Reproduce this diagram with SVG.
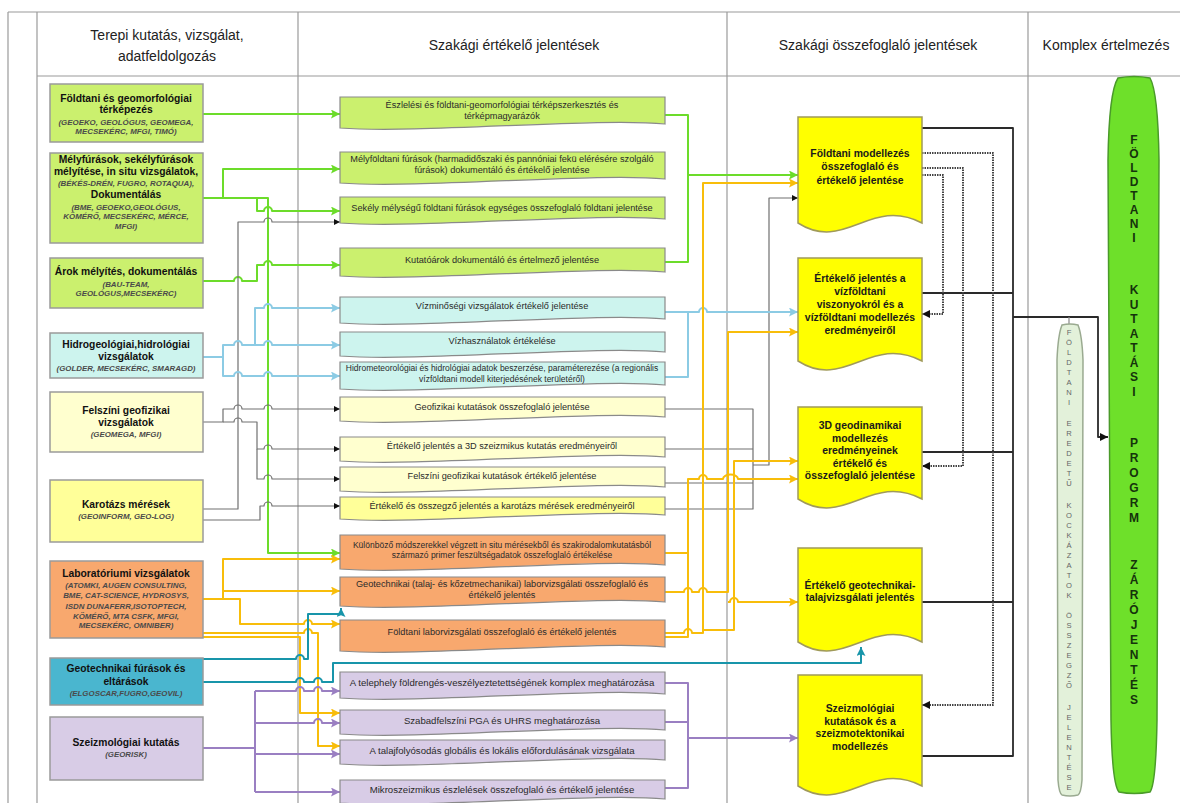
<svg xmlns="http://www.w3.org/2000/svg" width="1180" height="803" viewBox="0 0 1180 803">
<style>
text{font-family:"Liberation Sans",Arial,sans-serif}
.hdr{font-size:14px;fill:#222;text-anchor:middle}
.lb{font-size:10.3px;font-weight:bold;fill:#111;text-anchor:middle}
.li{font-size:7.9px;font-weight:bold;font-style:italic;fill:#4a4a4a;text-anchor:middle}
.mt{font-size:9.2px;fill:#2a2a2a;text-anchor:middle}
.ms{font-size:8.5px;fill:#2a2a2a;text-anchor:middle}
.mb{font-size:9.6px;fill:#2a2a2a;text-anchor:middle}
.rb{font-size:10.4px;font-weight:bold;fill:#1a1a1a;text-anchor:middle}
.pl{font-size:12px;font-weight:bold;fill:#15330c;text-anchor:middle}
.sp{font-size:7.6px;fill:#666;text-anchor:middle}
.grid{stroke:#9a9a9a;stroke-width:1.2;fill:none}
.lbox{stroke:#9a9a9a;stroke-width:1.5}
.mbox{stroke:#8a8a8a;stroke-width:1.2}
.rbox{fill:#ffff00;stroke:#a09a5a;stroke-width:1.5}
.fg{fill:#cbf06e}.fc{fill:#cdf4ee}.fy{fill:#ffffcf}.fk{fill:#ffff99}.fo{fill:#f8a86e}.ft{fill:#4ab6cf}.fp{fill:#d8cce6}
.c{fill:none;stroke-linejoin:round}
.g{stroke:#6cdc2a;stroke-width:2}
.b{stroke:#8ccbe4;stroke-width:2}
.y{stroke:#f8bd0a;stroke-width:2}
.t{stroke:#1895aa;stroke-width:2}
.p{stroke:#9a7fc2;stroke-width:2}
.k{stroke:#707070;stroke-width:1.2}
.bl{stroke:#2a2a2a;stroke-width:1.8}
.d{stroke:#444;stroke-width:2;stroke-dasharray:1.5,1}
</style>
<defs>
<marker id="aG" viewBox="0 0 10 10" refX="10" refY="5" markerWidth="9" markerHeight="9" markerUnits="userSpaceOnUse" orient="auto"><path d="M0,0 L10,5 L0,10 L2,5 Z" fill="#6cdc2a"/></marker>
<marker id="aB" viewBox="0 0 10 10" refX="10" refY="5" markerWidth="9" markerHeight="9" markerUnits="userSpaceOnUse" orient="auto"><path d="M0,0 L10,5 L0,10 L2,5 Z" fill="#8ccbe4"/></marker>
<marker id="aY" viewBox="0 0 10 10" refX="10" refY="5" markerWidth="9" markerHeight="9" markerUnits="userSpaceOnUse" orient="auto"><path d="M0,0 L10,5 L0,10 L2,5 Z" fill="#f8bd0a"/></marker>
<marker id="aT" viewBox="0 0 10 10" refX="10" refY="5" markerWidth="9" markerHeight="9" markerUnits="userSpaceOnUse" orient="auto"><path d="M0,0 L10,5 L0,10 L2,5 Z" fill="#1895aa"/></marker>
<marker id="aP" viewBox="0 0 10 10" refX="10" refY="5" markerWidth="9" markerHeight="9" markerUnits="userSpaceOnUse" orient="auto"><path d="M0,0 L10,5 L0,10 L2,5 Z" fill="#9a7fc2"/></marker>
<marker id="aK" viewBox="0 0 10 10" refX="10" refY="5" markerWidth="6" markerHeight="6" markerUnits="userSpaceOnUse" orient="auto"><path d="M0,0 L10,5 L0,10 Z" fill="#111"/></marker>
<marker id="aD" viewBox="0 0 10 10" refX="10" refY="5" markerWidth="8" markerHeight="8" markerUnits="userSpaceOnUse" orient="auto"><path d="M0,0 L10,5 L0,10 Z" fill="#111"/></marker>
</defs>
<rect width="1180" height="803" fill="#fff"/>

<g id="table">
<line class="grid" x1="8" y1="12" x2="1180" y2="12" stroke-width="1.8"/>
<line class="grid" x1="8" y1="12" x2="8" y2="803"/>
<line class="grid" x1="37" y1="12" x2="37" y2="803"/>
<line class="grid" x1="298" y1="12" x2="298" y2="803"/>
<line class="grid" x1="727" y1="12" x2="727" y2="803"/>
<line class="grid" x1="1028" y1="12" x2="1028" y2="803"/>
<line class="grid" x1="37" y1="76" x2="1180" y2="76"/>
<text class="hdr" x="167" y="40">Terepi kutatás, vizsgálat,</text>
<text class="hdr" x="167" y="61">adatfeldolgozás</text>
<text class="hdr" x="514" y="50">Szakági értékelő jelentések</text>
<text class="hdr" x="878" y="50">Szakági összefoglaló jelentések</text>
<text class="hdr" x="1106" y="50">Komplex értelmezés</text>
</g>

<g id="connectors">
<g id="green-lines" class="c g">
<path d="M203,114 H340" marker-end="url(#aG)"/>
<path d="M203,198 H223 V169 H340" marker-end="url(#aG)"/>
<path d="M223,198 H268 V553 H340" marker-end="url(#aG)"/>
<path d="M257,198 V211 H264 a4,4 0 0 1 8,0 H340" marker-end="url(#aG)"/>
<path d="M203,281 H234 a4,4 0 0 1 8,0 H257 V265 H264 a4,4 0 0 1 8,0 H340" marker-end="url(#aG)"/>
<path d="M665,115 H688 V262 H665"/>
<path d="M688,175 H798" marker-end="url(#aG)"/>
</g>
<g id="gray-lines" class="c k">
<path d="M203,509 H238 V222 H264 a4,4 0 0 1 8,0 H340" marker-end="url(#aK)"/>
<path d="M203,520 H260 V506 H264 a4,4 0 0 1 8,0 H340" marker-end="url(#aK)"/>
<path d="M203,422 H223 V409 H234 a4,4 0 0 1 8,0 H264 a4,4 0 0 1 8,0 H340" marker-end="url(#aK)"/>
<path d="M223,422 H234 a4,4 0 0 1 8,0 H257 V449 H264 a4,4 0 0 1 8,0 H340" marker-end="url(#aK)"/>
<path d="M257,449 V479 H264 a4,4 0 0 1 8,0 H340" marker-end="url(#aK)"/>
<path d="M665,409 H753 V509 H665"/>
<path d="M665,449 H753"/>
<path d="M665,483 H753"/>
<path d="M753,465 H769 V198 H798" marker-end="url(#aK)"/>
</g>
<g id="blue-lines" class="c b">
<path d="M203,357 H223 V345 H234 a4,4 0 0 1 8,0 H255 V308 H264 a4,4 0 0 1 8,0 H340" marker-end="url(#aB)"/>
<path d="M255,345 H264 a4,4 0 0 1 8,0 H340" marker-end="url(#aB)"/>
<path d="M223,357 V376 H234 a4,4 0 0 1 8,0 H264 a4,4 0 0 1 8,0 H340" marker-end="url(#aB)"/>
<path d="M665,312 H688 V377 H665"/>
<path d="M688,312 H699 a4,4 0 0 1 8,0 H798" marker-end="url(#aB)"/>
</g>
<g id="yellow-lines" class="c y">
<path d="M203,599 H223 V559 H340" marker-end="url(#aY)"/>
<path d="M223,591 H340" marker-end="url(#aY)"/>
<path d="M223,599 H240 V624 H304 a4,4 0 0 1 8,0 H340" marker-end="url(#aY)"/>
<path d="M203,633 H304 a4,4 0 0 1 8,0 H318 V746 H340" marker-end="url(#aY)"/>
<path d="M203,637 H300 V713 H340" marker-end="url(#aY)"/>
<path d="M665,553 H688"/>
<path d="M665,637 H688 V479 H699 a4,4 0 0 1 8,0 H723 a7.5,4.5 0 0 1 15,0 H798" marker-end="url(#aY)"/>
<path d="M665,592 H684 a4,4 0 0 1 8,0 H699 a4,4 0 0 1 8,0 H728 V332 H798" marker-end="url(#aY)"/>
<path d="M728,602 H730 a4,4 0 0 1 8,0 H798" marker-end="url(#aY)"/>
<path d="M665,633 H684 a4,4 0 0 1 8,0 H703 V183 H798" marker-end="url(#aY)"/>
<path d="M703,630 H734 V461 H798" marker-end="url(#aY)"/>
</g>
<g id="teal-lines" class="c t">
<path d="M203,659 H296 a4,4 0 0 1 8,0 H308 V614 H341 V608" marker-end="url(#aT)"/>
<path d="M203,682 H296 a4,4 0 0 1 8,0 H314 a4,4 0 0 1 8,0 H333 V663 H861 V647" marker-end="url(#aT)"/>
</g>
<g id="purple-lines" class="c p">
<path d="M203,748 H255 M255,691 V792"/>
<path d="M255,691 H296 a4,4 0 0 1 8,0 H314 a4,4 0 0 1 8,0 H340" marker-end="url(#aP)"/>
<path d="M255,723 H314 a4,4 0 0 1 8,0 H340" marker-end="url(#aP)"/>
<path d="M255,754 H340" marker-end="url(#aP)"/>
<path d="M255,792 H340" marker-end="url(#aP)"/>
<path d="M665,683 H688 V788 H665"/>
<path d="M665,722 H688"/>
<path d="M688,738 H798" marker-end="url(#aP)"/>
</g>
<g id="black-lines" class="c bl">
<path d="M922,128 H1013 V756 H922"/>
<path d="M922,293 H1013"/>
<path d="M922,452 H1013"/>
<path d="M922,602 H1013"/>
<path d="M1013,317 H1098 V437 H1108" marker-end="url(#aD)"/>
<path d="M1069,317 V325" stroke="#888" stroke-width="1.2"/>
</g>
<g id="dotted-lines" class="c d">
<path d="M922,153 H993 V705 H922" marker-end="url(#aD)"/>
<path d="M922,168 H963 V466 H922" marker-end="url(#aD)"/>
<path d="M922,175 H943 V314 H922" marker-end="url(#aD)"/>
</g>
</g>

<g id="n-foldtani-terkepezes"><rect class="lbox fg" x="50" y="84" width="153" height="58"/>
<text class="lb" x="126" y="102">Földtani és geomorfológiai</text><text class="lb" x="126" y="113">térképezés</text>
<text class="li" x="126" y="125">(GEOEKO, GEOLÓGUS, GEOMEGA,</text><text class="li" x="126" y="134">MECSEKÉRC, MFGI, TIMÓ)</text></g>
<g id="n-melyfurasok"><rect class="lbox fg" x="50" y="153" width="153" height="90"/>
<text class="lb" x="126" y="163">Mélyfúrások, sekélyfúrások</text><text class="lb" x="126" y="175">mélyítése, in situ vizsgálatok,</text>
<text class="li" x="126" y="186">(BÉKÉS-DRÉN, FUGRO, ROTAQUA),</text><text class="lb" x="126" y="198">Dokumentálás</text>
<text class="li" x="126" y="210">(BME, GEOEKO,GEOLÓGUS,</text><text class="li" x="126" y="219">KÖMÉRŐ, MECSEKÉRC, MÉRCE,</text><text class="li" x="126" y="229">MFGI)</text></g>
<g id="n-arok"><rect class="lbox fg" x="50" y="258" width="153" height="50"/>
<text class="lb" x="126" y="275">Árok mélyítés, dokumentálás</text>
<text class="li" x="126" y="287">(BAU-TEAM,</text><text class="li" x="126" y="296">GEOLÓGUS,MECSEKÉRC)</text></g>
<g id="n-hidrogeologiai"><rect class="lbox fc" x="50" y="333" width="153" height="45"/>
<text class="lb" x="126" y="348">Hidrogeológiai,hidrológiai</text><text class="lb" x="126" y="360">vizsgálatok</text>
<text class="li" x="126" y="371">(GOLDER, MECSEKÉRC, SMARAGD)</text></g>
<g id="n-felszini-geofizikai"><rect class="lbox fy" x="50" y="392" width="153" height="60"/>
<text class="lb" x="126" y="414">Felszíni   geofizikai</text><text class="lb" x="126" y="426">vizsgálatok</text>
<text class="li" x="126" y="437">(GEOMEGA, MFGI)</text></g>
<g id="n-karotazs"><rect class="lbox fk" x="50" y="480" width="153" height="62"/>
<text class="lb" x="126" y="508">Karotázs mérések</text><text class="li" x="126" y="519">(GEOINFORM, GEO-LOG)</text></g>
<g id="n-laboratoriumi"><rect class="lbox fo" x="50" y="561" width="153" height="77"/>
<text class="lb" x="126" y="577">Laboratóriumi vizsgálatok</text>
<text class="li" x="126" y="588">(ATOMKI, AUGEN CONSULTING,</text><text class="li" x="126" y="598">BME, CAT-SCIENCE, HYDROSYS,</text>
<text class="li" x="126" y="609">ISDN DUNAFERR,ISOTOPTECH,</text><text class="li" x="126" y="619">KÖMÉRŐ, MTA CSFK, MFGI,</text><text class="li" x="126" y="628">MECSEKÉRC, OMNIBER)</text></g>
<g id="n-geotechnikai-furasok"><rect class="lbox ft" x="50" y="658" width="153" height="47"/>
<text class="lb" x="126" y="672">Geotechnikai fúrások és</text><text class="lb" x="126" y="685">eltárások</text>
<text class="li" x="126" y="696">(ELGOSCAR,FUGRO,GEOVIL)</text></g>
<g id="n-szeizmologiai-kutatas"><rect class="lbox fp" x="50" y="717" width="153" height="63"/>
<text class="lb" x="126" y="746">Szeizmológiai kutatás</text><text class="li" x="126" y="757">(GEORISK)</text></g>

<g id="m-eszlelesi"><path class="mbox fg" d="M340,97 H665 V124 C600,117 420,134 340,128 Z"/>
<text class="mt" x="502" y="108">Észlelési és földtani-geomorfológiai térképszerkesztés és</text><text class="mt" x="502" y="119">térképmagyarázók</text></g>
<g id="m-melyfoldtani"><path class="mbox fg" d="M340,152 H665 V179 C600,172 420,189 340,183 Z"/>
<text class="mt" x="502" y="162">Mélyföldtani fúrások (harmadidőszaki és pannóniai fekü elérésére szolgáló</text><text class="mt" x="502" y="173">fúrások) dokumentáló és értékelő jelentése</text></g>
<g id="m-sekely"><path class="mbox fg" d="M340,197 H665 V219 C600,212 420,229 340,223 Z"/>
<text class="mt" x="502" y="211">Sekély mélységű földtani fúrások  egységes összefoglaló földtani jelentése</text></g>
<g id="m-kutatoarok"><path class="mbox fg" d="M340,248 H665 V272 C600,265 420,282 340,276 Z"/>
<text class="mt" x="502" y="263">Kutatóárok dokumentáló és értelmező jelentése</text></g>
<g id="m-vizminosegi"><path class="mbox fc" d="M340,297 H665 V319 C600,312 420,329 340,323 Z"/>
<text class="mt" x="502" y="309">Vízminőségi vizsgálatok értékelő jelentése</text></g>
<g id="m-vizhasznalatok"><path class="mbox fc" d="M340,332 H665 V352 C600,345 420,362 340,356 Z"/>
<text class="mt" x="502" y="344">Vízhasználatok értékelése</text></g>
<g id="m-hidrometeorologiai"><path class="mbox fc" d="M340,362 H665 V385 C600,378 420,395 340,389 Z"/>
<text class="ms" x="502" y="371">Hidrometeorológiai és hidrológiai adatok beszerzése, paraméterezése (a regionális</text><text class="ms" x="502" y="382">vízföldtani modell kiterjedésének területéről)</text></g>
<g id="m-geofizikai"><path class="mbox fy" d="M340,397 H665 V417 C600,410 420,427 340,421 Z"/>
<text class="mt" x="502" y="410">Geofizikai kutatások összefoglaló jelentése</text></g>
<g id="m-3d-szeizmikus"><path class="mbox fy" d="M340,437 H665 V457 C600,450 420,467 340,461 Z"/>
<text class="mt" x="502" y="449">Értékelő jelentés a 3D szeizmikus kutatás eredményeiről</text></g>
<g id="m-felszini"><path class="mbox fy" d="M340,467 H665 V487 C600,480 420,497 340,491 Z"/>
<text class="mt" x="502" y="479">Felszíni geofizikai kutatások értékelő jelentése</text></g>
<g id="m-karotazs"><path class="mbox fk" d="M340,497 H665 V515 C600,508 420,525 340,519 Z"/>
<text class="mt" x="502" y="509">Értékelő és összegző jelentés a karotázs mérések eredményeiről</text></g>
<g id="m-kulonbozo"><path class="mbox fo" d="M340,535 H665 V565 C600,558 420,575 340,569 Z"/>
<text class="ms" x="502" y="548">Különböző módszerekkel végzett in situ mérésekből és szakirodalomkutatásból</text><text class="ms" x="502" y="558">származó primer feszültségadatok összefoglaló értékelése</text></g>
<g id="m-geotechnikai-labor"><path class="mbox fo" d="M340,577 H665 V602 C600,595 420,612 340,606 Z"/>
<text class="mt" x="502" y="587">Geotechnikai (talaj- és kőzetmechanikai) laborvizsgálati összefoglaló és</text><text class="mt" x="502" y="598">értékelő jelentés</text></g>
<g id="m-foldtani-labor"><path class="mbox fo" d="M340,620 H665 V647 C600,640 420,657 340,651 Z"/>
<text class="mt" x="502" y="635">Földtani laborvizsgálati összefoglaló és értékelő jelentés</text></g>
<g id="m-telephely"><path class="mbox fp" d="M340,672 H665 V694 C600,687 420,704 340,698 Z"/>
<text class="mb" x="502" y="686">A telephely földrengés-veszélyeztetettségének komplex meghatározása</text></g>
<g id="m-szabadfelszini"><path class="mbox fp" d="M340,710 H665 V730 C600,723 420,740 340,734 Z"/>
<text class="mb" x="502" y="724">Szabadfelszíni PGA és UHRS meghatározása</text></g>
<g id="m-talajfolyosodas"><path class="mbox fp" d="M340,740 H665 V760 C600,753 420,770 340,764 Z"/>
<text class="mb" x="502" y="754">A talajfolyósodás globális és lokális előfordulásának vizsgálata</text></g>
<g id="m-mikroszeizmikus"><path class="mbox fp" d="M340,780 H665 V799 C600,792 420,809 340,803 Z"/>
<text class="mb" x="502" y="793">Mikroszeizmikus észlelések összefoglaló és értékelő jelentése</text></g>

<g id="r-foldtani-modellezes"><path class="rbox" d="M798,117 H922 V223 C870,196 845,253 798,223 Z"/>
<text class="rb" x="860" y="157">Földtani modellezés</text><text class="rb" x="860" y="170">összefoglaló és</text><text class="rb" x="860" y="184">értékelő jelentése</text></g>
<g id="r-vizfoldtani"><path class="rbox" d="M798,258 H922 V361 C870,334 845,391 798,361 Z"/>
<text class="rb" x="860" y="282">Értékelő jelentés a</text><text class="rb" x="860" y="295">vízföldtani</text><text class="rb" x="860" y="308">viszonyokról és a</text><text class="rb" x="860" y="321">vízföldtani modellezés</text><text class="rb" x="860" y="334">eredményeiről</text></g>
<g id="r-3d-geodinamikai"><path class="rbox" d="M798,407 H922 V499 C870,472 845,529 798,499 Z"/>
<text class="rb" x="860" y="429">3D geodinamikai</text><text class="rb" x="860" y="442">modellezés</text><text class="rb" x="860" y="454">eredményeinek</text><text class="rb" x="860" y="467">értékelő és</text><text class="rb" x="860" y="479">összefoglaló jelentése</text></g>
<g id="r-geotechnikai"><path class="rbox" d="M798,548 H922 V642 C870,615 845,672 798,642 Z"/>
<text class="rb" x="860" y="589">Értékelő geotechnikai-</text><text class="rb" x="860" y="601">talajvizsgálati jelentés</text></g>
<g id="r-szeizmologiai"><path class="rbox" d="M798,675 H922 V786 C870,759 845,816 798,786 Z"/>
<text class="rb" x="860" y="712">Szeizmológiai</text><text class="rb" x="860" y="725">kutatások és a</text><text class="rb" x="860" y="737">szeizmotektonikai</text><text class="rb" x="860" y="750">modellezés</text></g>

<g id="p-kockazatok">
<path d="M1062,325 Q1070,323 1078,325 Q1082,335 1083,360 L1082,780 Q1081,793 1078,795 Q1070,797 1062,795 Q1059,793 1058,780 L1057,360 Q1058,335 1062,325 Z" fill="#e3f1da" stroke="#9aaa90" stroke-width="1.5"/>
<text class="sp"><tspan x="1069" y="335">F</tspan><tspan x="1069" y="345">Ö</tspan><tspan x="1069" y="355">L</tspan><tspan x="1069" y="365">D</tspan><tspan x="1069" y="375">T</tspan><tspan x="1069" y="385">A</tspan><tspan x="1069" y="395">N</tspan><tspan x="1069" y="405">I</tspan><tspan x="1069" y="426">E</tspan><tspan x="1069" y="436">R</tspan><tspan x="1069" y="446">E</tspan><tspan x="1069" y="456">D</tspan><tspan x="1069" y="466">E</tspan><tspan x="1069" y="476">T</tspan><tspan x="1069" y="486">Ű</tspan><tspan x="1069" y="508">K</tspan><tspan x="1069" y="518">O</tspan><tspan x="1069" y="528">C</tspan><tspan x="1069" y="538">K</tspan><tspan x="1069" y="548">Á</tspan><tspan x="1069" y="558">Z</tspan><tspan x="1069" y="568">A</tspan><tspan x="1069" y="578">T</tspan><tspan x="1069" y="588">O</tspan><tspan x="1069" y="598">K</tspan><tspan x="1069" y="618">Ö</tspan><tspan x="1069" y="628">S</tspan><tspan x="1069" y="638">S</tspan><tspan x="1069" y="648">Z</tspan><tspan x="1069" y="658">E</tspan><tspan x="1069" y="668">G</tspan><tspan x="1069" y="678">Z</tspan><tspan x="1069" y="688">Ő</tspan><tspan x="1069" y="710">J</tspan><tspan x="1069" y="720">E</tspan><tspan x="1069" y="730">L</tspan><tspan x="1069" y="740">E</tspan><tspan x="1069" y="750">N</tspan><tspan x="1069" y="760">T</tspan><tspan x="1069" y="770">É</tspan><tspan x="1069" y="780">S</tspan><tspan x="1069" y="790">E</tspan></text>
</g>

<g id="p-zarojelentes">
<path d="M1118,78 Q1134,75 1150,78 Q1158,92 1159,160 L1157,720 Q1156,784 1150,792 Q1134,795 1119,792 Q1112,784 1111,720 L1108,160 Q1109,92 1118,78 Z" fill="#6ee02a" stroke="#4a9a2a" stroke-width="1.5"/>
<text class="pl"><tspan x="1134" y="144">F</tspan><tspan x="1134" y="158">Ö</tspan><tspan x="1134" y="172">L</tspan><tspan x="1134" y="186">D</tspan><tspan x="1134" y="200">T</tspan><tspan x="1134" y="214">A</tspan><tspan x="1134" y="228">N</tspan><tspan x="1134" y="242">I</tspan><tspan x="1134" y="294">K</tspan><tspan x="1134" y="309">U</tspan><tspan x="1134" y="323">T</tspan><tspan x="1134" y="338">A</tspan><tspan x="1134" y="352">T</tspan><tspan x="1134" y="367">Á</tspan><tspan x="1134" y="381">S</tspan><tspan x="1134" y="396">I</tspan><tspan x="1134" y="447">P</tspan><tspan x="1134" y="462">R</tspan><tspan x="1134" y="477">O</tspan><tspan x="1134" y="492">G</tspan><tspan x="1134" y="507">R</tspan><tspan x="1134" y="522">M</tspan><tspan x="1134" y="569">Z</tspan><tspan x="1134" y="584">Á</tspan><tspan x="1134" y="599">R</tspan><tspan x="1134" y="614">Ó</tspan><tspan x="1134" y="629">J</tspan><tspan x="1134" y="644">E</tspan><tspan x="1134" y="659">N</tspan><tspan x="1134" y="674">T</tspan><tspan x="1134" y="689">É</tspan><tspan x="1134" y="704">S</tspan></text>
</g>
</svg>
